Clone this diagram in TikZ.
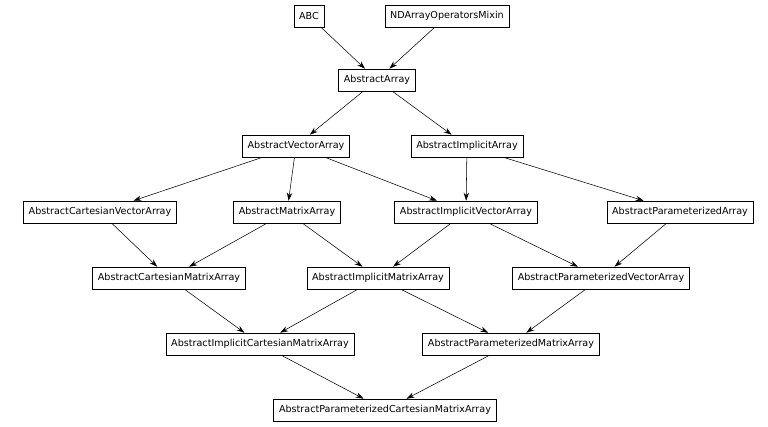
\documentclass[tikz,border=0pt]{standalone}
\usepackage{fontspec}
\setmainfont{DejaVu Sans}
\usetikzlibrary{arrows.meta}
\begin{document}
\begin{tikzpicture}[x=0.75pt,y=-0.75pt,line width=.4pt,
    cls/.style={draw,rectangle,minimum height=16.5pt,inner xsep=4pt,font=\fontsize{7.2}{8}\selectfont},
    inh/.style={-{Stealth[length=6pt,width=4pt]}}]
\useasboundingbox (0,0) rectangle (768,426);

  \path (309,16) node[cls] (abc) {ABC};
  \path (447,16) node[cls] (ndmix) {NDArrayOperatorsMixin};
  \path (377,80) node[cls] (aa) {AbstractArray};
  \path (296,146) node[cls] (ava) {AbstractVectorArray};
  \path (467,146) node[cls] (aia) {AbstractImplicitArray};
  \path (100,212) node[cls] (acva) {AbstractCartesianVectorArray};
  \path (287,212) node[cls] (ama) {AbstractMatrixArray};
  \path (466,212) node[cls] (aiva) {AbstractImplicitVectorArray};
  \path (680,212) node[cls] (apa) {AbstractParameterizedArray};
  \path (169,278) node[cls] (acma) {AbstractCartesianMatrixArray};
  \path (378,278) node[cls] (aima) {AbstractImplicitMatrixArray};
  \path (601,278) node[cls] (apva) {AbstractParameterizedVectorArray};
  \path (260,344) node[cls] (aicma) {AbstractImplicitCartesianMatrixArray};
  \path (511,344) node[cls] (apma) {AbstractParameterizedMatrixArray};
  \path (385,410) node[cls] (apcma) {AbstractParameterizedCartesianMatrixArray};

  \draw[inh] (abc) -- (aa);
  \draw[inh] (ndmix) -- (aa);
  \draw[inh] (aa) -- (ava);
  \draw[inh] (aa) -- (aia);
  \draw[inh] (ava) -- (acva);
  \draw[inh] (ava) -- (ama);
  \draw[inh] (ava) -- (aiva);
  \draw[inh] (aia) -- (aiva);
  \draw[inh] (aia) -- (apa);
  \draw[inh] (acva) -- (acma);
  \draw[inh] (ama) -- (acma);
  \draw[inh] (ama) -- (aima);
  \draw[inh] (aiva) -- (aima);
  \draw[inh] (aiva) -- (apva);
  \draw[inh] (apa) -- (apva);
  \draw[inh] (acma) -- (aicma);
  \draw[inh] (aima) -- (aicma);
  \draw[inh] (aima) -- (apma);
  \draw[inh] (apva) -- (apma);
  \draw[inh] (aicma) -- (apcma);
  \draw[inh] (apma) -- (apcma);
\end{tikzpicture}
\end{document}
